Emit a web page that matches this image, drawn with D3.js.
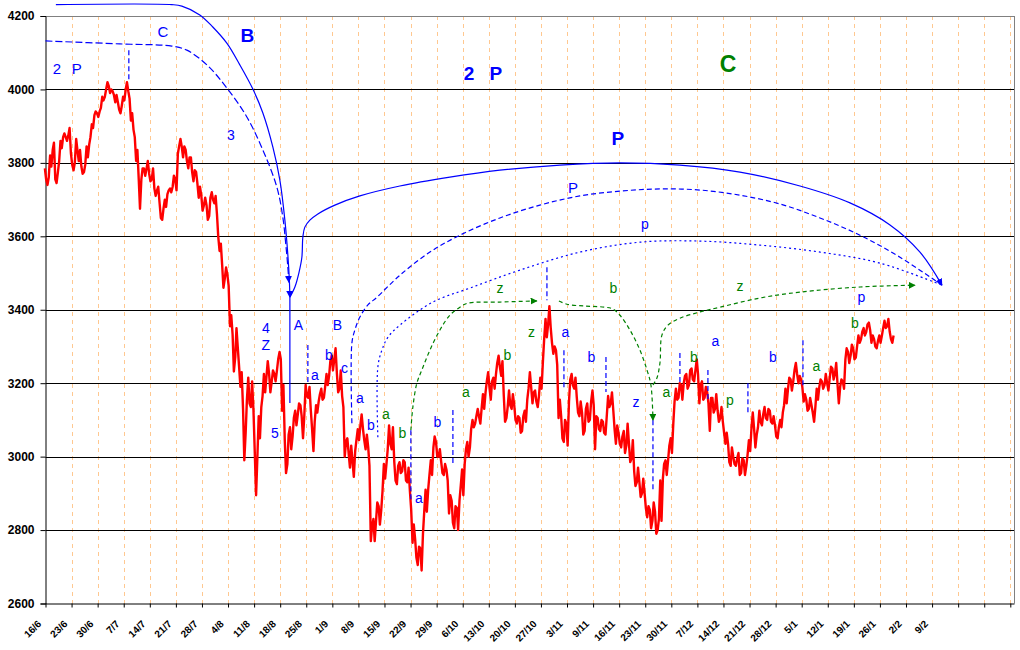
<!DOCTYPE html>
<html><head><meta charset="utf-8">
<script src="https://cdn.jsdelivr.net/npm/d3@7"></script>
<style>body{margin:0;background:#fff}</style>
</head><body>
<svg id="c" width="1020" height="650"></svg>
<script>
// ---------- DATA ----------
const tickLabels = ["16/6","23/6","30/6","7/7","14/7","21/7","28/7","4/8","11/8","18/8","25/8","1/9","8/9","15/9","22/9","29/9","6/10","13/10","20/10","27/10","3/11","9/11","16/11","23/11","30/11","7/12","14/12","21/12","28/12","5/1","12/1","19/1","26/1","2/2","9/2"];
const daysPerTick = 5;
const totalTicks = 38;
const yTicks = [2600,2800,3000,3200,3400,3600,3800,4000,4200];
const priceStep = 0.5; // trading days between samples
// mid value of each half-day sample
const prices = [
3770,3750,3805,3845,3750,3790,3850,3875,3865,3885,
3810,3790,3850,3820,3780,3785,3830,3860,3900,3935,
3930,3945,3975,3990,4015,3995,3990,3975,3955,3945,
3975,4010,3985,3925,3880,3820,3715,3770,3775,3795,
3760,3770,3720,3730,3670,3660,3690,3720,3725,3750,
3740,3835,3855,3830,3820,3800,
3795,3765,3760,3720,3690,3695,3665,3680,3710,3700,
3630,3570,3490,3500,3480,3370,3282,3310,3270,3210,
3060,3110,3180,3170,3070,2945,3080,3150,3200,3240,
3200,3220,3215,3250,3275,3160,3000,3020,3050,3080,
3105,3130,3125,3080,3180,3175,3100,3055,3130,3160,
3170,3175,3210,3240,3255,3280,3200,3210,3150,3020,
3030,3000,2965,3030,3060,3100,3060,3040,3000,2790,
2800,2850,2840,2880,2960,3000,3060,3050,2960,2950,
2970,2975,2960,2950,2880,2790,2750,2730,2720,2820,
2880,2930,2970,3040,3020,3010,2970,2965,2950,2870,
2850,2835,2830,2900,2930,3000,3020,3050,3090,3100,
3120,3110,3150,3190,3210,3180,3200,3240,3260,3240,
3130,3120,3160,3150,3120,3100,3085,3090,3110,3170,
3210,3160,3165,3150,3200,3290,3350,3385,3330,3290,
3270,3130,3080,3070,3060,3180,3210,3200,3140,3130,
3090,3100,3120,3125,3160,3065,3090,3085,3080,3085,
3150,3160,3100,3060,3050,3040,3040,3060,3010,3020,
2940,2950,2910,2920,2880,2850,2830,2850,2820,2815,
2880,2960,2970,3010,3030,3120,3170,3180,3175,3210,
3205,3215,3225,3220,3245,3170,3180,3175,3160,3115,
3140,3150,3110,3120,3080,3050,3010,3000,2990,2985,
2980,2975,2970,2990,3030,3100,3050,3070,3110,3100,
3120,3115,3110,3100,3070,3065,3090,3130,3165,3200,
3195,3220,3240,3210,3200,3160,3140,3145,3130,3115,
3170,3200,3195,3210,3190,3230,3225,3240,3170,3200,
3195,3280,3270,3290,3280,3285,3320,3330,3340,3350,
3355,3320,3310,3305,3320,3340,3360,3365,3330,3320
];
// high-low spread seen within each sample
const spreads = [
30,20,30,20,10,30,20,10,10,20,
30,20,30,30,20,20,30,20,10,10,
10,10,10,20,10,10,10,20,20,20,
10,20,20,20,20,30,80,30,20,20,
20,30,20,10,40,30,20,10,10,30,
30,20,20,30,30,30,
40,30,30,30,40,20,40,50,20,20,
60,20,60,30,30,30,100,80,50,40,
140,90,70,70,110,100,60,30,50,40,
50,30,20,30,20,70,90,80,60,50,
40,30,30,60,30,30,50,80,20,20,
30,30,30,40,40,30,50,50,30,40,
40,60,40,30,30,30,30,40,50,40,
60,50,50,50,40,40,50,60,50,50,
30,30,50,40,50,50,50,50,60,60,
60,40,40,30,40,20,30,30,30,50,
60,60,60,40,70,40,40,50,20,20,
20,40,40,30,40,50,30,30,30,40,
70,30,40,40,40,20,40,40,30,30,
40,30,30,30,30,60,50,50,40,20,
40,50,60,60,60,60,30,30,40,40,
60,60,50,50,40,90,30,30,30,50,
30,30,50,50,30,30,60,60,50,50,
40,40,40,40,40,30,50,50,60,30,
110,40,40,40,40,60,30,40,40,20,
40,40,30,30,40,50,50,30,30,90,
40,40,30,30,30,30,50,50,20,20,
60,40,40,30,30,40,50,20,30,30,
30,30,30,20,30,30,20,20,40,30,
30,30,30,20,20,20,30,30,20,40,
30,20,20,30,20,30,30,30,50,20,
20,30,30,30,30,30,20,20,20,20,
20,20,20,20,20,20,20,20,20,20
];

// annotation paths [day, value]
const waveB = [[1.99,4231],[24.22,4231],[26.14,4227],[29.59,4203],[32.08,4170],[34.77,4126],[37.26,4067],[39.76,4001],[41.68,3936],[43.60,3843],[44.94,3753],[45.90,3644],[46.47,3549],[46.76,3481],[46.86,3434]];
const waveC = [[0,4132],[14.25,4124],[24.22,4118],[27.10,4107],[30.94,4067],[34.77,4004],[38.61,3925],[41.68,3835],[44.36,3734],[45.51,3652],[46.09,3576],[46.47,3516],[46.66,3475]];
const waveA = [[46.86,3434],[46.86,3146]];
const waveBigP = [[46.86,3434],[47.82,3462],[48.58,3500],[49.16,3543],[49.35,3598],[49.73,3625],[50.69,3644],[52.23,3661],[55.49,3685],[60.28,3710],[67.95,3737],[77.54,3761],[87.13,3780],[98.64,3794],[110.15,3800],[121.65,3794],[133.16,3775],[144.67,3737],[154.26,3691],[161.93,3631],[167.68,3557],[171.90,3467]];
const waveMidP = [[58.75,3091],[58.75,3309],[59.32,3345],[60.28,3380],[61.82,3413],[63.55,3434],[67.95,3494],[73.71,3557],[79.46,3603],[87.13,3650],[94.80,3685],[102.48,3710],[110.15,3723],[117.82,3729],[125.50,3726],[133.16,3712],[140.84,3688],[148.51,3650],[156.18,3603],[163.85,3543],[171.90,3467]];
const waveSmallP = [[63.73,3053],[63.73,3244],[64.50,3290],[65.65,3325],[67.95,3358],[74.28,3421],[81.38,3459],[90.97,3508],[102.48,3557],[113.98,3584],[125.50,3587],[137.0,3576],[148.51,3557],[160.02,3527],[171.90,3467]];
const greenZ1 = [[70.06,3072],[70.44,3135],[71.21,3200],[72.17,3236],[73.71,3290],[75.63,3345],[77.54,3385],[79.46,3407],[81.0,3418],[87.13,3421],[94.22,3424]];
const greenB1 = [[98.45,3424],[99.98,3415],[103.44,3410],[107.27,3407],[108.8,3402],[110.15,3385],[112.06,3345],[113.98,3290],[115.33,3236],[116.09,3195],[116.48,3099]];
const greenZ2 = [[116.48,3195],[117.24,3214],[117.82,3255],[118.2,3331],[119.35,3358],[121.65,3377],[125.5,3394],[129.33,3407],[137.0,3432],[144.67,3448],[156.18,3462],[166.73,3467]];
// vertical wave markers [day, from, to]
const markers = [[15.98,4107,4020],[50.31,3304,3203],[70.06,3072,2881],[78.12,3127,2982],[96.15,3516,3426],[99.41,3290,3189],[107.47,3271,3176],[116.48,3099,2909],[121.65,3282,3200],[127.02,3236,3154],[134.69,3200,3118],[145.24,3317,3189]];

// labels [text, day, value]
const blueSmall = [["3",35.54,3862],["4",42.25,3336],["Z",42.25,3290],["A",48.49,3345],["B",55.96,3345],["5",43.98,3050],["a",51.65,3208],["b",54.33,3263],["c",57.31,3227],["a",60.28,3146],["b",62.39,3072],["a",71.61,2873],["b",75.14,3080],["a",99.69,3325],["b",104.68,3257],["z",113.21,3135],["a",128.46,3301],["b",139.49,3257],["p",156.46,3421],["p",114.94,3620]];
const blueMedium = [["2",2.17,4042],["P",6.0,4042],["C",22.5,4143],["P",101.13,3718]];
const blueBold = [["B",38.7,4129],["2",81.19,4026],["P",86.36,4026],["P",109.76,3849]];
const greenSmall = [["a",65.27,3102],["b",68.43,3050],["a",80.61,3162],["b",88.57,3263],["z",87.13,3445],["z",93.17,3325],["b",108.9,3445],["a",119.06,3162],["b",124.34,3257],["p",131.24,3140],["z",133.16,3451],["a",147.83,3233],["b",155.22,3350]];
const greenBold = [["C",130.86,4047]];

// ---------- DRAW ----------
const FONT = "'Liberation Sans', Arial, Helvetica, sans-serif";
const BLUE = "#0000FF", GREEN = "#008000", RED = "#FF0000";
const svg = d3.select("#c");
svg.append("rect").attr("width",1020).attr("height",650).attr("fill","#fff");

const L = 45.5, R = 1014, T = 16, B = 603.5;
const maxDay = (totalTicks-1)*daysPerTick;
const x = d3.scaleLinear().domain([0, maxDay]).range([L, 1010.3]);
const y = d3.scaleLinear().domain([2600, 4200]).range([B, T]);

const tickDays = d3.range(totalTicks).map(i => i*daysPerTick);

// vertical orange grid
svg.append("g").selectAll("line").data(tickDays.slice(1)).join("line")
  .attr("x1", d => Math.round(x(d))+0.5).attr("x2", d => Math.round(x(d))+0.5)
  .attr("y1", T).attr("y2", B)
  .attr("stroke", "#FFC890").attr("stroke-width", 1).attr("stroke-dasharray", "4,4");

// horizontal grid
svg.append("g").selectAll("line").data(yTicks.filter(v => v>2600 && v<4200)).join("line")
  .attr("x1", L).attr("x2", R)
  .attr("y1", d => Math.round(y(d))+0.5).attr("y2", d => Math.round(y(d))+0.5)
  .attr("stroke", "#000").attr("stroke-width", 1);

// frame
svg.append("line").attr("x1",L).attr("x2",R+0.5).attr("y1",T+0.5).attr("y2",T+0.5).attr("stroke","#808080");
svg.append("line").attr("x1",R+0.5).attr("x2",R+0.5).attr("y1",T).attr("y2",B).attr("stroke","#808080");

// y axis
const yAxis = d3.axisLeft(y).tickValues(yTicks).tickSize(5).tickPadding(6).tickFormat(d3.format("d"));
const gy = svg.append("g").attr("transform", `translate(${L},0)`).call(yAxis);
gy.select(".domain").attr("stroke","#000");
gy.selectAll(".tick line").attr("stroke","#000");
gy.selectAll("text").attr("font-family", FONT).attr("font-size", 12).attr("font-weight","bold").attr("fill","#000");

// x axis
const xAxis = d3.axisBottom(x).tickValues(tickDays).tickSize(4).tickFormat((d,i) => tickLabels[i] || "");
const gx = svg.append("g").attr("transform", `translate(0,${B})`).call(xAxis);
gx.select(".domain").attr("d", `M${L},0.5H${R+0.5}`).attr("stroke","#000");
gx.selectAll(".tick line").attr("stroke","#000");
gx.selectAll(".tick text")
  .attr("font-family", FONT).attr("font-size", 10).attr("font-weight","bold").attr("fill","#000")
  .attr("text-anchor","end").attr("dy", null).attr("y", null)
  .attr("transform", "translate(-4,21) rotate(-45)");

// red price line: each sample drawn through its high and low
const pts = [];
prices.forEach((v, i) => {
  const hi = v + spreads[i]/2, lo = v - spreads[i]/2;
  const pair = i % 2 === 0 ? [hi, lo] : [lo, hi];
  pts.push([i*priceStep - 0.12, pair[0]]);
  pts.push([i*priceStep + 0.12, pair[1]]);
});
const line = d3.line().x(d => x(d[0])).y(d => y(d[1]));
svg.append("path").datum(pts).attr("d", line)
  .attr("fill","none").attr("stroke",RED).attr("stroke-width",2.4).attr("stroke-linejoin","round");

// arrow markers
const defs = svg.append("defs");
function mk(id, color){
  defs.append("marker").attr("id", id).attr("viewBox","0 0 10 10").attr("refX",9).attr("refY",5)
    .attr("markerWidth",7).attr("markerHeight",7).attr("markerUnits","userSpaceOnUse").attr("orient","auto")
    .append("path").attr("d","M0,0L10,5L0,10Z").attr("fill",color);
}
mk("ab", BLUE); mk("ag", GREEN);

const curve = d3.line().x(d => x(d[0])).y(d => y(d[1])).curve(d3.curveCatmullRom.alpha(0.5));
function path(data, color, dash, arrow){
  const p = svg.append("path").datum(data).attr("d", curve).attr("fill","none")
    .attr("stroke", color).attr("stroke-width", 1.2);
  if (dash) p.attr("stroke-dasharray", dash);
  if (arrow) p.attr("marker-end", `url(#${arrow})`);
  return p;
}
path(waveB, BLUE, null, "ab");
path(waveC, BLUE, "7,3", "ab");
path(waveA, BLUE, null, null);
path(waveBigP, BLUE, null, "ab");
path(waveMidP, BLUE, "5,3", null);
path(waveSmallP, BLUE, "2,3", null);
path(greenZ1, GREEN, "4,3", "ag");
path(greenB1, GREEN, "4,3", "ag");
path(greenZ2, GREEN, "4,3", "ag");

svg.append("g").selectAll("line").data(markers).join("line")
  .attr("x1", d => x(d[0])).attr("x2", d => x(d[0]))
  .attr("y1", d => y(d[1])).attr("y2", d => y(d[2]))
  .attr("stroke", BLUE).attr("stroke-width", 1.2).attr("stroke-dasharray","5,3");

// labels
function labels(data, color, size, weight){
  svg.append("g").selectAll("text").data(data).join("text")
    .attr("x", d => x(d[1])).attr("y", d => y(d[2]))
    .attr("text-anchor","middle").attr("font-family", FONT)
    .attr("font-size", size).attr("font-weight", weight).attr("fill", color)
    .text(d => d[0]);
}
labels(blueSmall, BLUE, 14, "normal");
labels(blueMedium, BLUE, 15, "normal");
labels(blueBold, BLUE, 19, "bold");
labels(greenSmall, GREEN, 14, "normal");
labels(greenBold, GREEN, 23, "bold");
</script>
</body></html>
